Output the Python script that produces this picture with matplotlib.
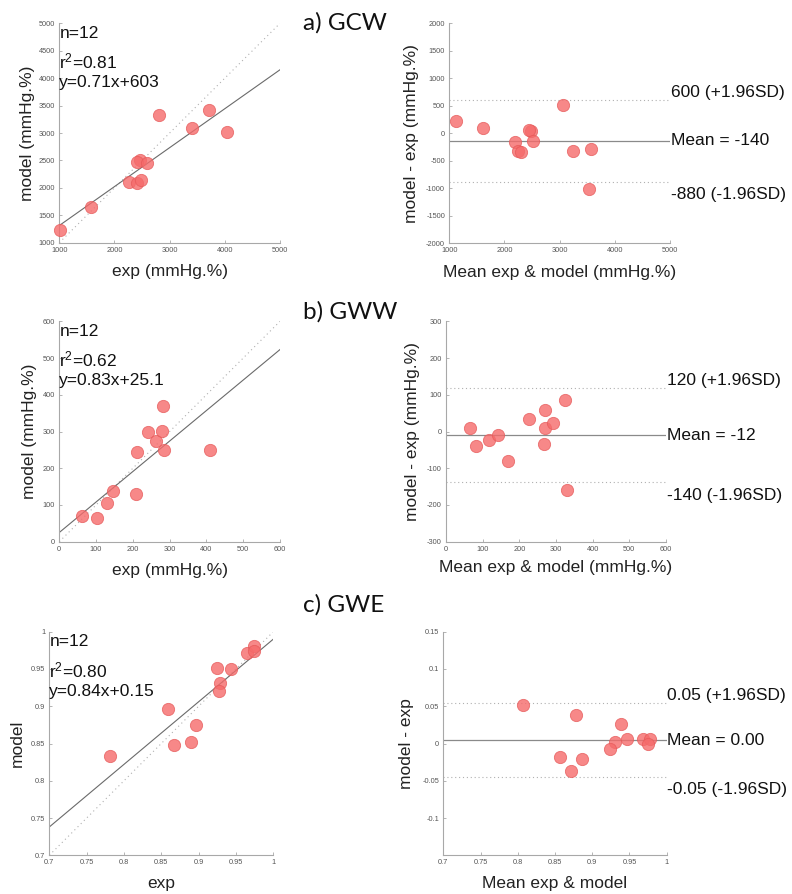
import numpy as np
import matplotlib
matplotlib.use('Agg')
import matplotlib.pyplot as plt
import matplotlib.transforms as mtransforms
from matplotlib.ticker import FuncFormatter

plt.rcParams['font.family'] = ['Liberation Sans', 'DejaVu Sans']
plt.rcParams['mathtext.default'] = 'regular'

# ---------------- data ----------------
gcw_exp = [1012, 1568, 2800, 3411, 3707, 4033, 2462, 2402, 2595, 2269, 2402, 2480]
gcw_model = [1231, 1657, 3322, 3091, 3419, 3018, 2502, 2471, 2453, 2112, 2088, 2137]
gcw_fit = (0.71, 603)
gcw_stats = ["n=12", "r$^2$=0.81", "y=0.71x+603"]
gcw_ba_labels = ["600 (+1.96SD)", "Mean = -140", "-880 (-1.96SD)"]

gww_exp = [60.7, 102.4, 128.7, 146.8, 208.5, 210.3, 240.2, 263.8, 280.0, 281.9, 285.5, 408.8]
gww_model = [69.0, 63.5, 106.0, 137.0, 129.0, 244.0, 300.0, 274.0, 302.0, 368.5, 250.5, 249.6]
gww_fit = (0.83, 25.1)
gww_stats = ["n=12", "r$^2$=0.62", "y=0.83x+25.1"]
gww_ba_labels = ["120 (+1.96SD)", "Mean = -12", "-140 (-1.96SD)"]

gwe_exp = [0.7813, 0.8585, 0.8665, 0.8897, 0.8960, 0.9250, 0.9290, 0.9277, 0.9429, 0.9652, 0.9746, 0.9746]
gwe_model = [0.8332, 0.8967, 0.8480, 0.8525, 0.8753, 0.9517, 0.9315, 0.9204, 0.9494, 0.9714, 0.9808, 0.9745]
gwe_fit = (0.84, 0.15)
gwe_stats = ["n=12", "r$^2$=0.80", "y=0.84x+0.15"]
gwe_ba_labels = ["0.05 (+1.96SD)", "Mean = 0.00", "-0.05 (-1.96SD)"]

titles = ["a) GCW", "b) GWW", "c) GWE"]

# ---------------- layout ----------------
W, H = 792, 894
fig = plt.figure(figsize=(W / 100, H / 100), dpi=100)


def rect(l, t, r, b):
    return [l / W, 1 - b / H, (r - l) / W, (b - t) / H]


PT_COLOR = (0.96, 0.42, 0.42)
EDGE = (0.90, 0.35, 0.35)
SPINE = '#a8a8a8'
TICKC = '#555555'
fmt = FuncFormatter(lambda v, p: '%g' % round(v, 6))


def style(ax, xlim, ylim, xt, yt, xlab, ylab, xlab_y, ylab_x):
    ax.set_xlim(*xlim)
    ax.set_ylim(*ylim)
    ax.set_xticks(xt)
    ax.set_yticks(yt)
    ax.xaxis.set_major_formatter(fmt)
    ax.yaxis.set_major_formatter(fmt)
    for s in ['top', 'right']:
        ax.spines[s].set_visible(False)
    for s in ['left', 'bottom']:
        ax.spines[s].set_color(SPINE)
        ax.spines[s].set_linewidth(0.8)
    ax.tick_params(direction='in', length=2, width=0.6, color=SPINE,
                   labelsize=5.3, labelcolor=TICKC, pad=3)
    ax.set_xlabel(xlab, fontsize=12.5, color='#222222')
    ax.set_ylabel(ylab, fontsize=12.5, color='#222222')
    ax.xaxis.set_label_coords(0.5, xlab_y)
    ax.yaxis.set_label_coords(ylab_x, 0.5)
    ax.xaxis.label.set_va('center')
    ax.yaxis.label.set_va('center')


def scatter_panel(ax, exp, model, fit, stats, lim):
    exp = np.asarray(exp)
    model = np.asarray(model)
    ax.plot(lim, lim, linestyle=(0, (1, 3)), color='#b0b0b0', lw=0.8, zorder=1)
    xs = np.array(lim)
    ax.plot(xs, fit[0] * xs + fit[1], color='#6a6a6a', lw=0.8, zorder=2)
    ax.scatter(exp, model, s=78, facecolor=PT_COLOR, edgecolor=EDGE,
               linewidth=0.6, alpha=0.8, zorder=3, clip_on=False)
    ys = [0.955, 0.828, 0.732]
    for s, y in zip(stats, ys):
        ax.text(0.0, y, s, transform=ax.transAxes, fontsize=12.5,
                va='center', ha='left', color='#111111')


def ba_panel(ax, exp, model, labels):
    exp = np.asarray(exp)
    model = np.asarray(model)
    mean_v = (exp + model) / 2
    diff = model - exp
    m = diff.mean()
    sd = diff.std(ddof=1)
    up, lo = m + 1.96 * sd, m - 1.96 * sd
    ax.axhline(up, linestyle=(0, (1, 2.5)), color='#b0b0b0', lw=0.8, zorder=1)
    ax.axhline(lo, linestyle=(0, (1, 2.5)), color='#b0b0b0', lw=0.8, zorder=1)
    ax.axhline(m, color='#8a8a8a', lw=0.9, zorder=1)
    ax.scatter(mean_v, diff, s=78, facecolor=PT_COLOR, edgecolor=EDGE,
               linewidth=0.6, alpha=0.8, zorder=3, clip_on=False)
    tr = mtransforms.blended_transform_factory(ax.transAxes, ax.transData)
    tr_low = tr + mtransforms.ScaledTranslation(0, -5.5 / 100, fig.dpi_scale_trans)
    ax.text(1.003, up, labels[0], transform=tr, fontsize=12.5, va='bottom',
            ha='left', color='#111111')
    ax.text(1.003, m, labels[1], transform=tr, fontsize=12.5, va='center',
            ha='left', color='#111111')
    ax.text(1.003, lo, labels[2], transform=tr_low, fontsize=12.5, va='top',
            ha='left', color='#111111')


# ---- a) GCW ----
ax = fig.add_axes(rect(59.3, 23.3, 280, 242.7))
scatter_panel(ax, gcw_exp, gcw_model, gcw_fit, gcw_stats, [1000, 5000])
style(ax, (1000, 5000), (1000, 5000), np.arange(1000, 5001, 1000),
      np.arange(1000, 5001, 500), 'exp (mmHg.%)', 'model (mmHg.%)', -0.132, -0.146)

ax = fig.add_axes(rect(449.3, 23.3, 670, 243.3))
ba_panel(ax, gcw_exp, gcw_model, gcw_ba_labels)
style(ax, (1000, 5000), (-2000, 2000), np.arange(1000, 5001, 1000),
      np.arange(-2000, 2001, 500), 'Mean exp & model (mmHg.%)', 'model - exp (mmHg.%)',
      -0.132, -0.170)

# ---- b) GWW ----
ax = fig.add_axes(rect(59.3, 321.3, 280, 541.7))
scatter_panel(ax, gww_exp, gww_model, gww_fit, gww_stats, [0, 600])
style(ax, (0, 600), (0, 600), np.arange(0, 601, 100), np.arange(0, 601, 100),
      'exp (mmHg.%)', 'model (mmHg.%)', -0.129, -0.133)

ax = fig.add_axes(rect(446, 321.3, 666, 541.7))
ba_panel(ax, gww_exp, gww_model, gww_ba_labels)
style(ax, (0, 600), (-300, 300), np.arange(0, 601, 100), np.arange(-300, 301, 100),
      'Mean exp & model (mmHg.%)', 'model - exp (mmHg.%)', -0.119, -0.151)

# ---- c) GWE ----
ax = fig.add_axes(rect(49.3, 631.7, 273.3, 855.3))
scatter_panel(ax, gwe_exp, gwe_model, gwe_fit, gwe_stats, [0.7, 1.0])
style(ax, (0.7, 1.0), (0.7, 1.0), np.arange(0.7, 1.001, 0.05), np.arange(0.7, 1.001, 0.05),
      'exp', 'model', -0.124, -0.144)

ax = fig.add_axes(rect(443.3, 631.7, 666.7, 855.3))
ba_panel(ax, gwe_exp, gwe_model, gwe_ba_labels)
style(ax, (0.7, 1.0), (-0.15, 0.15), np.arange(0.7, 1.001, 0.05),
      [-0.1, -0.05, 0, 0.05, 0.1, 0.15],
      'Mean exp & model', 'model - exp', -0.124, -0.164)

# ---- titles ----
for t, y in zip(titles, [23, 311.7, 605]):
    fig.text(303 / W, 1 - y / H, t, fontsize=17.5, family=['Lato', 'DejaVu Sans'],
             ha='left', va='center', color='#111111')

fig.savefig('out.png', dpi=100)
